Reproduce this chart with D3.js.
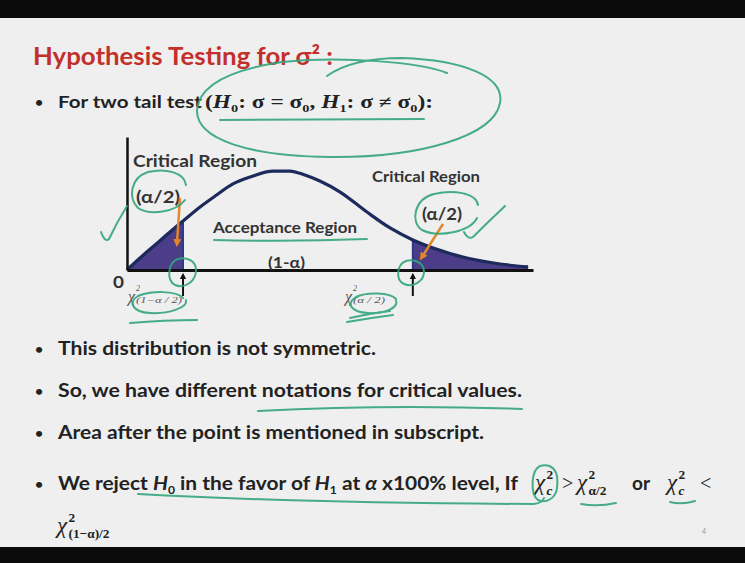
<!DOCTYPE html>
<html>
<head>
<meta charset="utf-8">
<script src="https://cdn.jsdelivr.net/npm/d3@7"></script>
<style>
  html, body { margin: 0; padding: 0; background: #000; }
  svg { display: block; }
</style>
</head>
<body>
<script>
// Chi-square density sketch (x and y in plot units 0-100)
const curveX = [0, 3.2, 6.9, 10.6, 13.8, 18.0, 21.7, 26.1, 30.3, 36.0, 40.1, 43.8, 47.5, 52.5, 59.1, 64.8, 70.4, 75.4, 83.7, 91.9, 98.8];
const curveY = [0, 9.0, 18.8, 28.6, 36.8, 47.4, 55.6, 64.7, 69.9, 74.4, 74.4, 71.4, 66.9, 58.6, 43.6, 31.6, 22.6, 16.5, 9.0, 4.5, 2.3];
// Critical values: lower χ²(1−α/2) and upper χ²(α/2)
const criticalLower = 13.8;
const criticalUpper = 70.4;

const bulletLines = [
  "This distribution is not symmetric.",
  "So, we have different notations for critical values.",
  "Area after the point is mentioned in subscript."
];

const W = 745, H = 563;
const SANS = "Lato, 'Open Sans', sans-serif";
const SERIF = "'Liberation Serif', 'DejaVu Serif', serif";
const INK = "#222";
const GREEN = "#33a57c";
const ORANGE = "#e5862a";

const svg = d3.select("body").append("svg").attr("width", W).attr("height", H);

// slide background with dark letterbox bars
svg.append("rect").attr("width", W).attr("height", H).attr("fill", "#0b0b0b");
svg.append("rect").attr("x", 0).attr("y", 18).attr("width", W).attr("height", 529).attr("fill", "#efefef");

function fit(sel, w) {
  sel.attr("textLength", w).attr("lengthAdjust", "spacingAndGlyphs");
  return sel;
}
function bullet(by) {
  svg.append("text").attr("x", 35).attr("y", by - 1).attr("font-family", SANS)
    .attr("font-weight", 700).attr("font-size", 14).attr("fill", INK).text("•");
}

// Title
fit(svg.append("text").attr("x", 33).attr("y", 65)
  .attr("font-family", SANS).attr("font-weight", 700).attr("font-size", 24)
  .attr("fill", "#c3302c")
  .text("Hypothesis Testing for σ² :"), 300);

// Bullet 1
bullet(108);
fit(svg.append("text").attr("x", 58).attr("y", 108).attr("font-family", SANS)
  .attr("font-weight", 700).attr("font-size", 17.5).attr("fill", INK)
  .text("For two tail test"), 144);
{
  const t = svg.append("text").attr("x", 205).attr("y", 108).attr("font-family", SERIF)
    .attr("font-weight", 700).attr("font-size", 18).attr("fill", INK);
  t.append("tspan").text("(");
  t.append("tspan").attr("font-style", "italic").text("H");
  t.append("tspan").attr("font-size", 11).attr("dy", 4).text("0");
  t.append("tspan").attr("dy", -4).text(": σ = σ");
  t.append("tspan").attr("font-size", 11).attr("dy", 4).text("0");
  t.append("tspan").attr("dy", -4).text(", ");
  t.append("tspan").attr("font-style", "italic").text("H");
  t.append("tspan").attr("font-size", 11).attr("dy", 4).text("1");
  t.append("tspan").attr("dy", -4).text(": σ ≠ σ");
  t.append("tspan").attr("font-size", 11).attr("dy", 4).text("0");
  t.append("tspan").attr("dy", -4).text("):");
  fit(t, 228);
}

// ---- chart ----
const x = d3.scaleLinear().domain([0, 100]).range([127, 533]);
const y = d3.scaleLinear().domain([0, 100]).range([270, 137]);
const pts = curveX.map((v, i) => ({ x: v, y: curveY[i] }));

const area = d3.area().x(d => x(d.x)).y0(y(0)).y1(d => y(d.y)).curve(d3.curveMonotoneX);
const line = d3.line().x(d => x(d.x)).y(d => y(d.y)).curve(d3.curveMonotoneX);

const chart = svg.append("g");
chart.append("path").datum(pts.filter(d => d.x <= criticalLower))
  .attr("d", area).attr("fill", "#4c3d88");
chart.append("path").datum(pts.filter(d => d.x >= criticalUpper))
  .attr("d", area).attr("fill", "#4c3d88");
// edges of the shaded tails
[criticalLower, criticalUpper].forEach(c => {
  const p = pts.find(d => d.x === c);
  chart.append("line").attr("x1", x(c)).attr("x2", x(c)).attr("y1", y(0)).attr("y2", y(p.y))
    .attr("stroke", "#2b3a8c").attr("stroke-width", 2);
});
chart.append("path").datum(pts).attr("d", line)
  .attr("fill", "none").attr("stroke", "#1c2a5c").attr("stroke-width", 3.2);

// axes without ticks
const xAxis = chart.append("g").attr("transform", `translate(0,${y(0)})`)
  .call(d3.axisBottom(x).ticks(0).tickSizeOuter(0));
const yAxis = chart.append("g").attr("transform", `translate(${x(0)},0)`)
  .call(d3.axisLeft(y).ticks(0).tickSizeOuter(0));
xAxis.select(".domain").attr("stroke", "#111").attr("stroke-width", 3);
yAxis.select(".domain").attr("stroke", "#111").attr("stroke-width", 2.5);

// chart labels
function label(tx, ty, str, size, w) {
  return fit(svg.append("text").attr("x", tx).attr("y", ty).attr("font-family", SANS)
    .attr("font-weight", 700).attr("font-size", size).attr("fill", "#333").text(str), w);
}
label(133, 167, "Critical Region", 17, 124);
label(372, 182, "Critical Region", 15, 108);
label(136, 203, "(α/2)", 17, 44);
label(422, 220, "(α/2)", 17, 40);
label(213, 233, "Acceptance Region", 16, 144);
label(268, 268, "(1-α)", 15, 37);
label(113, 288, "0", 17, 11);

// critical value labels under the axis
function chiLabel(tx, ty, sub, subW) {
  const g = svg.append("g").attr("fill", "#555").attr("font-family", SERIF).attr("font-style", "italic");
  g.append("text").attr("x", tx).attr("y", ty).attr("font-size", 16).text("χ");
  g.append("text").attr("x", tx + 8).attr("y", ty - 11).attr("font-size", 8).text("2");
  fit(g.append("text").attr("x", tx + 8).attr("y", ty + 1).attr("font-size", 9).text(sub), subW);
}
chiLabel(128, 302, "(1−α / 2)", 46);
chiLabel(345, 302, "(α / 2)", 32);

// black pointers to the critical values
const defs = svg.append("defs");
defs.append("marker").attr("id", "blk").attr("viewBox", "0 0 10 10").attr("refX", 5).attr("refY", 5)
  .attr("markerWidth", 3.2).attr("markerHeight", 3.2).attr("orient", "auto-start-reverse")
  .append("path").attr("d", "M0,0 L10,5 L0,10 z").attr("fill", "#111");
defs.append("marker").attr("id", "org").attr("viewBox", "0 0 10 10").attr("refX", 5).attr("refY", 5)
  .attr("markerWidth", 3.2).attr("markerHeight", 3.2).attr("orient", "auto-start-reverse")
  .append("path").attr("d", "M0,0 L10,5 L0,10 z").attr("fill", ORANGE);
[criticalLower, criticalUpper].forEach(c => {
  svg.append("line").attr("x1", x(c)).attr("x2", x(c)).attr("y1", 296).attr("y2", 276)
    .attr("stroke", "#111").attr("stroke-width", 2).attr("marker-end", "url(#blk)");
});
// orange arrows from the (α/2) labels into the tails
svg.append("line").attr("x1", 180).attr("y1", 198).attr("x2", 177).attr("y2", 243)
  .attr("stroke", ORANGE).attr("stroke-width", 2.5).attr("marker-end", "url(#org)");
svg.append("line").attr("x1", 443).attr("y1", 224).attr("x2", 422).attr("y2", 257)
  .attr("stroke", ORANGE).attr("stroke-width", 2.5).attr("marker-end", "url(#org)");

// Bullets 2-4
const baselines = [355, 397, 439];
const widths = [318, 464, 426];
bulletLines.forEach((s, i) => {
  bullet(baselines[i]);
  fit(svg.append("text").attr("x", 58).attr("y", baselines[i]).attr("font-family", SANS)
    .attr("font-weight", 700).attr("font-size", 19).attr("fill", INK).text(s), widths[i]);
});

// Bullet 5 with inline math
const B5 = 490;
bullet(B5);
{
  const t = svg.append("text").attr("x", 58).attr("y", B5).attr("font-family", SANS)
    .attr("font-weight", 700).attr("font-size", 19).attr("fill", INK);
  t.append("tspan").text("We reject ");
  t.append("tspan").attr("font-style", "italic").text("H");
  t.append("tspan").attr("font-size", 11).attr("dy", 4).text("0");
  t.append("tspan").attr("dy", -4).text(" in the favor of ");
  t.append("tspan").attr("font-style", "italic").text("H");
  t.append("tspan").attr("font-size", 11).attr("dy", 4).text("1");
  t.append("tspan").attr("dy", -4).text(" at ");
  t.append("tspan").attr("font-style", "italic").text("α");
  t.append("tspan").text(" x100% level, If");
  fit(t, 460);
}
function chi(tx, ty, sub, size) {
  const g = svg.append("g").attr("fill", INK).attr("font-family", SERIF);
  g.append("text").attr("x", tx).attr("y", ty).attr("font-size", size).attr("font-style", "italic").text("χ");
  g.append("text").attr("x", tx + size * 0.5).attr("y", ty - size * 0.5).attr("font-size", size * 0.58)
    .attr("font-weight", 700).text("2");
  g.append("text").attr("x", tx + size * 0.5).attr("y", ty + size * 0.2).attr("font-size", size * 0.58)
    .attr("font-style", sub === "c" ? "italic" : "normal").attr("font-weight", 700).text(sub);
}
chi(535, B5, "c", 23);
svg.append("text").attr("x", 562).attr("y", B5).attr("font-family", SERIF).attr("font-size", 20).attr("fill", INK).text(">");
chi(577, B5, "α/2", 23);
svg.append("text").attr("x", 632).attr("y", B5).attr("font-family", SANS).attr("font-weight", 700)
  .attr("font-size", 19).attr("fill", INK).text("or");
chi(667, B5, "c", 23);
svg.append("text").attr("x", 700).attr("y", B5).attr("font-family", SERIF).attr("font-size", 20).attr("fill", INK).text("<");
chi(57, 533, "(1−α)/2", 23);
svg.append("text").attr("x", 702).attr("y", 534).attr("font-family", SANS).attr("font-size", 7).attr("fill", "#999").text("4");

// ---- hand-drawn pen marks ----
const pen = svg.append("g").attr("fill", "none").attr("stroke", GREEN).attr("stroke-width", 2)
  .attr("stroke-linecap", "round").attr("stroke-linejoin", "round").attr("opacity", 0.9);
const marks = [
  // big loop around the hypotheses, crossing near the title
  "M327,76 C345,63 372,58 402,58 C462,60 505,76 500,103 C494,136 420,158 330,157 C250,156 196,140 197,110 C199,86 230,70 282,62 C342,56 420,62 447,73",
  // underline of the hypotheses
  "M220,120 L424,119",
  // loop around left (α/2)
  "M186,185 C184,172 165,168 148,172 C130,178 128,198 138,208 C150,216 176,212 185,200",
  // check mark left
  "M101,232 Q105,243 109,239 Q117,222 127,206",
  // loop around right (α/2)
  "M478,205 C476,192 452,190 434,194 C414,199 410,222 422,230 C438,238 470,232 477,218",
  // check mark right
  "M464,232 Q468,240 473,237 Q488,222 505,206",
  // underline Acceptance Region
  "M214,240 Q290,242 367,239",
  // circles at the critical points
  "M196,270 C196,260 186,257 178,259 C168,262 166,280 175,285 C184,289 196,282 196,270",
  "M424,272 C424,262 414,259 406,261 C397,264 395,280 404,284 C413,288 424,281 424,272",
  // loops around the critical-value subscripts
  "M183,298 C176,290 150,291 138,296 C128,302 132,312 150,313 C168,314 188,308 186,300",
  "M396,299 C390,292 366,292 356,297 C346,303 350,312 368,313 C384,314 399,308 396,300",
  // underlines under those labels
  "M130,323 Q165,320 197,320",
  "M347,322 Q370,318 393,315",
  "M350,318 Q372,313 390,311",
  // underline "notations for critical values."
  "M258,411 Q390,404 522,409",
  // long underline in the last bullet
  "M138,494 Q300,503 534,504 Q542,503 544,498",
  // circle around χ²c
  "M557,476 C555,466 547,464 540,466 C531,470 530,494 538,500 C546,504 556,498 557,488 C558,482 557,478 557,476",
  // short underlines
  "M581,504 Q598,507 616,503",
  "M670,502 Q682,505 695,501"
];
marks.forEach(d => pen.append("path").attr("d", d));
</script>
</body>
</html>
